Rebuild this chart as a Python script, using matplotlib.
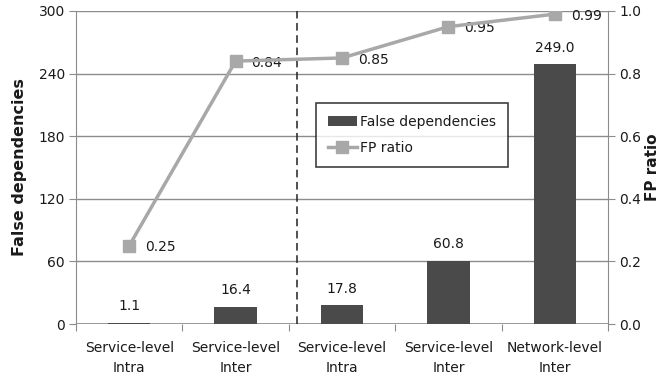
import matplotlib
matplotlib.use("Agg")
import matplotlib.pyplot as plt
import numpy as np

categories = ["Service-level\nIntra", "Service-level\nInter", "Service-level\nIntra",
              "Service-level\nInter", "Network-level\nInter"]
false_deps = [1.1, 16.4, 17.8, 60.8, 249.0]
fp_ratio = [0.25, 0.84, 0.85, 0.95, 0.99]
left_ticks = [0, 60, 120, 180, 240, 300]
right_ticks = [0.0, 0.2, 0.4, 0.6, 0.8, 1.0]

plt.rcParams['font.family'] = ['DejaVu Sans']
text_col = "#1a1a1a"
axis_col = "#8c8c8c"
bar_col = "#4a4a4a"
line_col = "#a8a8a8"

fig = plt.figure(figsize=(6.63, 3.83), dpi=100)
ax = fig.add_axes([76/663, 1 - 324/383, (608-76)/663, (324-11)/383])
x = np.arange(len(categories))

ax.set_xlim(-0.5, len(categories) - 0.5)
ax.set_ylim(0, 300)
ax.set_yticks(left_ticks)
ax.set_yticklabels([str(t) for t in left_ticks], fontsize=10, color=text_col)
ax.yaxis.grid(True, color=axis_col, linewidth=1)
ax.set_axisbelow(True)
for s in ["top", "right", "bottom"]:
    ax.spines[s].set_visible(False)
ax.spines["left"].set_color(axis_col)
ax.axhline(0, color=axis_col, linewidth=1.2, zorder=1)
ax.tick_params(axis="y", length=5, color=axis_col, pad=3)

bars = ax.bar(x, false_deps, width=0.4, color=bar_col, zorder=3)
for xi, v in zip(x, false_deps):
    ax.text(xi, v + 9, f"{v:.1f}", ha="center", va="bottom", fontsize=10, color=text_col)

# category boundaries as x ticks
ax.set_xticks(np.arange(-0.5, len(categories), 1.0))
ax.set_xticklabels([])
ax.set_xticks(x, minor=True)
ax.set_xticklabels(categories, minor=True, fontsize=10, color=text_col, linespacing=1.6)
ax.tick_params(axis="x", which="major", length=5, color=axis_col, direction="out")
ax.tick_params(axis="x", which="minor", length=0, pad=12)

ax.axvline(1.575, color="#222222", linestyle=(0, (5, 3)), linewidth=1.1, zorder=2)

ax.set_ylabel("False dependencies", fontsize=11.5, fontweight="bold", color=text_col, labelpad=8)

ax2 = ax.twinx()
ax2.set_ylim(0, 1.0)
ax2.set_yticks(right_ticks)
ax2.set_yticklabels([f"{t:.1f}" for t in right_ticks], fontsize=10, color=text_col)
for s in ["top", "left", "bottom"]:
    ax2.spines[s].set_visible(False)
ax2.spines["right"].set_color(axis_col)
ax2.tick_params(axis="y", length=5, color=axis_col, pad=3)
line, = ax2.plot(x, fp_ratio, color=line_col, linewidth=2.5, marker="s", markersize=8,
                 markerfacecolor=line_col, markeredgecolor=line_col, zorder=4)
for xi, v in zip(x, fp_ratio):
    ax2.text(xi + 0.15, v - 0.005, f"{v:.2f}", ha="left", va="center", fontsize=10, color=text_col)
ax2.set_ylabel("FP ratio", fontsize=11, fontweight="bold", color=text_col, labelpad=3)

leg = ax.legend([bars, line], ["False dependencies", "FP ratio"],
                loc="upper left", bbox_to_anchor=((316-76)/532, (324-103)/313),
                borderaxespad=0,
                fontsize=10, frameon=True, fancybox=False, edgecolor="#111111",
                borderpad=0.85, handlelength=2.1, labelspacing=0.9, handletextpad=0.2)
leg.get_frame().set_linewidth(1.2)
for t in leg.get_texts():
    t.set_color(text_col)

fig.savefig("out.png", dpi=100)
